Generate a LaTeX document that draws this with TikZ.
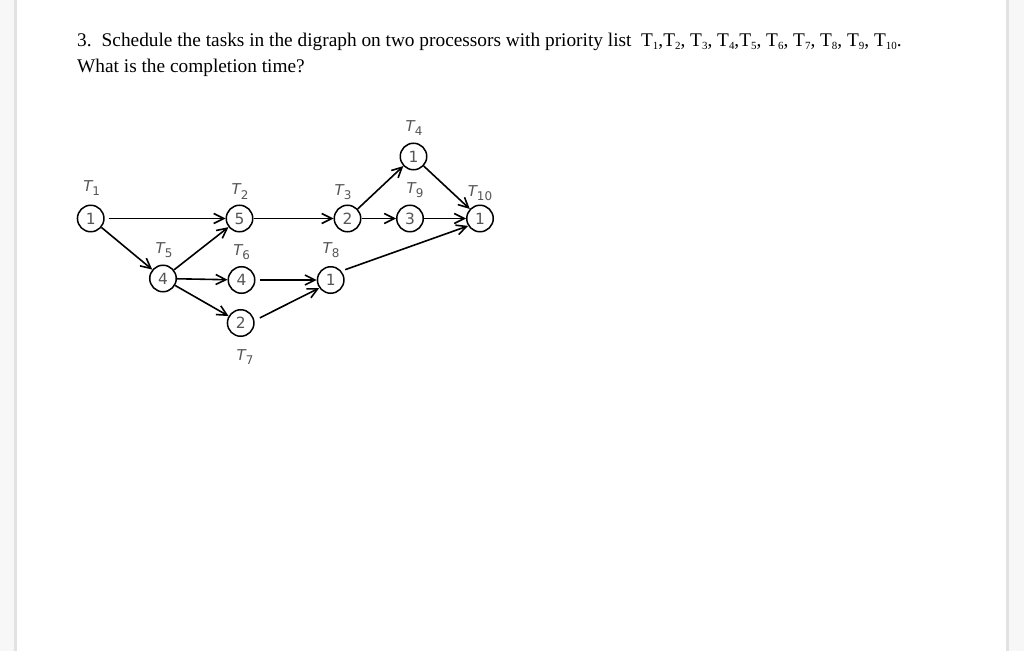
\documentclass[tikz,border=0pt]{standalone}
\usepackage{fontspec}
\setmainfont{Liberation Serif}
\newfontfamily\lblfont{DejaVu Sans}
\usetikzlibrary{arrows.meta}
\definecolor{margingrey}{HTML}{F7F7F7}
\definecolor{shadowgrey}{HTML}{E2E2E2}
\definecolor{lblgrey}{HTML}{555555}
\newcommand\tsk[1]{{\itshape T}\raisebox{-4.5bp}{\fontsize{12}{12}\selectfont #1}}
\newcommand\sbs[1]{\raisebox{-2.5bp}{\fontsize{11}{11}\selectfont #1}}
\begin{document}
\begin{tikzpicture}[x=1bp,y=-1bp,
  task/.style={circle,draw=black,line width=1.5bp,minimum size=26.5bp,inner sep=0pt,
    font=\lblfont\fontsize{15.5}{15.5}\selectfont,text=lblgrey},
  tlabel/.style={font=\lblfont\fontsize{15}{15}\selectfont,text=lblgrey,inner sep=0pt},
  arr/.style={-{Straight Barb[length=10bp,width=10bp,line width=1.6bp]},line width=1.6bp},
  qtext/.style={anchor=base west,inner sep=0pt,font=\fontsize{19.4}{19.4}\selectfont}]
\useasboundingbox (0,0) rectangle (1024,651);
\fill[margingrey] (0,0) rectangle (1024,651);
\fill[shadowgrey] (14,0) rectangle (1009,651);
\fill[white] (17,0) rectangle (1006,651);

\node[qtext] (q1) at (77,47) {3.\hspace{10bp}Schedule the tasks in the digraph on two processors with priority list\ \ T\sbs{1},T\sbs{2}, T\sbs{3}, T\sbs{4},T\sbs{5}, T\sbs{6}, T\sbs{7}, T\sbs{8}, T\sbs{9}, T\sbs{10}.};
\node[qtext] (q2) at (77,73) {What is the completion time?};

\node[task] (T1) at (90.7,218.5) {1};
\node[task] (T2) at (239.5,218.5) {5};
\node[task] (T3) at (347.5,218.5) {2};
\node[task] (T4) at (413.5,156.5) {1};
\node[task] (T9) at (410,218.5) {3};
\node[task] (T10) at (480,218.5) {1};
\node[task] (T5) at (163,278.5) {4};
\node[task] (T6) at (241.5,280) {4};
\node[task] (T7) at (240.7,323) {2};
\node[task] (T8) at (330.7,280) {1};

\node[tlabel] (L1) at (91.7,188) {\tsk{1}};
\node[tlabel] (L2) at (240,191.5) {\tsk{2}};
\node[tlabel] (L3) at (343,192) {\tsk{3}};
\node[tlabel] (L4) at (414,128) {\tsk{4}};
\node[tlabel] (L9) at (415,190) {\tsk{9}};
\node[tlabel] (L10) at (480,193) {\tsk{10}};
\node[tlabel] (L5) at (164,250) {\tsk{5}};
\node[tlabel] (L6) at (241.7,252) {\tsk{6}};
\node[tlabel] (L7) at (245,357) {\tsk{7}};
\node[tlabel] (L8) at (331,250) {\tsk{8}};

\draw[arr,shorten <=4bp] (T1) -- (T2);
\draw[arr] (T1) -- (T5);
\draw[arr] (T5) -- (T2);
\draw[arr] (T5) -- (T6);
\draw[arr] (T5) -- (T7);
\draw[arr,shorten <=4bp] (T6) -- (T8);
\draw[arr,shorten <=6bp] (T7.10) -- (T8.215);
\draw[arr] (T2) -- (T3);
\draw[arr] (T3) -- (T4);
\draw[arr] (T3) -- (T9);
\draw[arr] (T9) -- (T10);
\draw[arr] (T4) -- (T10);
\draw[arr,shorten <=4bp] (T8.40) -- (T10.212);
\end{tikzpicture}
\end{document}
